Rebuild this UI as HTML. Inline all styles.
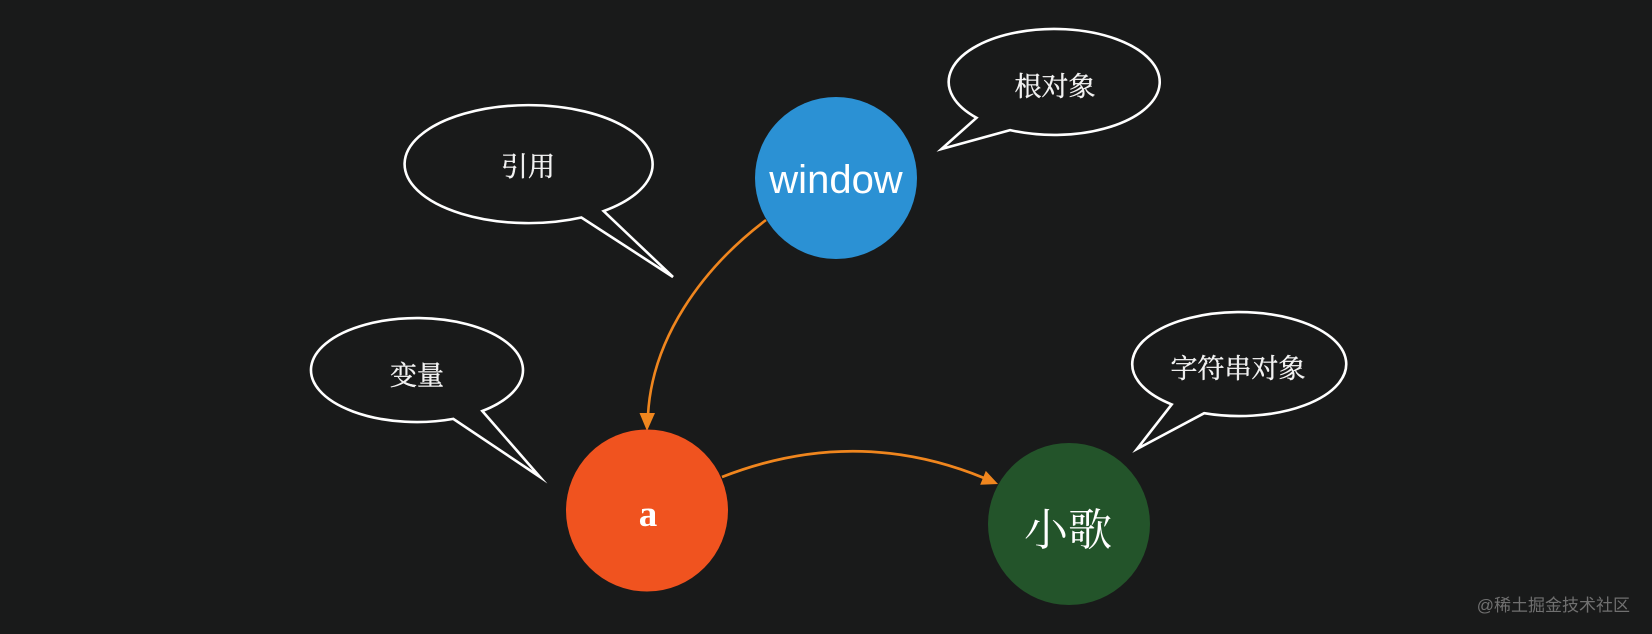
<!DOCTYPE html>
<html>
<head>
<meta charset="utf-8">
<style>
  html, body { margin: 0; padding: 0; background: #191a1a; }
  body { width: 1652px; height: 634px; overflow: hidden; }
  svg { display: block; }
  .bt { font-family: "Liberation Serif", "Noto Serif CJK SC", serif; font-size: 27px; fill: #f2f2f2; text-anchor: middle; stroke: #f2f2f2; stroke-width: 0.4px; }
</style>
</head>
<body>
<svg width="1652" height="634" viewBox="0 0 1652 634" xmlns="http://www.w3.org/2000/svg">
  <rect x="0" y="0" width="1652" height="634" fill="#191a1a"/>

  <!-- Speech bubbles -->
  <!-- 引用 -->
  <path d="M603.6,211.1 L673,277 L581.4,217.5 A124,59 0 1 1 603.6,211.1 Z" fill="none" stroke="#ffffff" stroke-width="2.6" stroke-linejoin="miter" stroke-miterlimit="10"/>
  <text class="bt" x="528" y="176">引用</text>

  <!-- 变量 -->
  <path d="M482.3,411.0 L540,477 L453.3,418.9 A106,52 0 1 1 482.3,411.0 Z" fill="none" stroke="#ffffff" stroke-width="2.6" stroke-linejoin="miter" stroke-miterlimit="10"/>
  <text class="bt" x="417" y="385">变量</text>

  <!-- 根对象 -->
  <path d="M1009.6,130.1 L941,149 L976,117.8 A105.5,53 0 1 1 1009.6,130.1 Z" fill="none" stroke="#ffffff" stroke-width="2.6" stroke-linejoin="miter" stroke-miterlimit="10" transform="translate(0.5,0)"/>
  <text class="bt" x="1055" y="96">根对象</text>

  <!-- 字符串对象 -->
  <path d="M1204.2,413.2 L1137,449 L1171.7,404.4 A107,52 0 1 1 1204.2,413.2 Z" fill="none" stroke="#ffffff" stroke-width="2.6" stroke-linejoin="miter" stroke-miterlimit="10"/>
  <text class="bt" x="1238" y="378">字符串对象</text>

  <!-- Arrows -->
  <path d="M766,220 C700,270 652,340 648,415" fill="none" stroke="#f0861e" stroke-width="2.6"/>
  <polygon points="647,431 639.5,413 655,413" fill="#f0861e"/>

  <path d="M722,477 Q855,425 984,478" fill="none" stroke="#f0861e" stroke-width="2.8"/>
  <polygon points="998,484 980.2,484.7 985.8,470.9" fill="#f0861e"/>

  <!-- Nodes -->
  <circle cx="836" cy="178" r="81" fill="#2b91d4"/>
  <text x="836" y="193" font-family="Liberation Sans, sans-serif" font-size="40" fill="#ffffff" text-anchor="middle">window</text>

  <circle cx="647" cy="510.5" r="81" fill="#f0531f"/>
  <text x="648" y="526" font-family="Liberation Serif, serif" font-weight="bold" font-size="37" fill="#ffffff" text-anchor="middle">a</text>

  <circle cx="1069" cy="524" r="81" fill="#23542a"/>
  <text x="1068" y="545" font-family="Liberation Serif, 'Noto Serif CJK SC', serif" font-size="44" fill="#ffffff" text-anchor="middle">小歌</text>

  <!-- Watermark -->
  <text x="1630" y="611" font-family="Liberation Sans, 'Noto Sans CJK SC', sans-serif" font-size="17" fill="#707070" text-anchor="end">@稀土掘金技术社区</text>
</svg>
</body>
</html>
